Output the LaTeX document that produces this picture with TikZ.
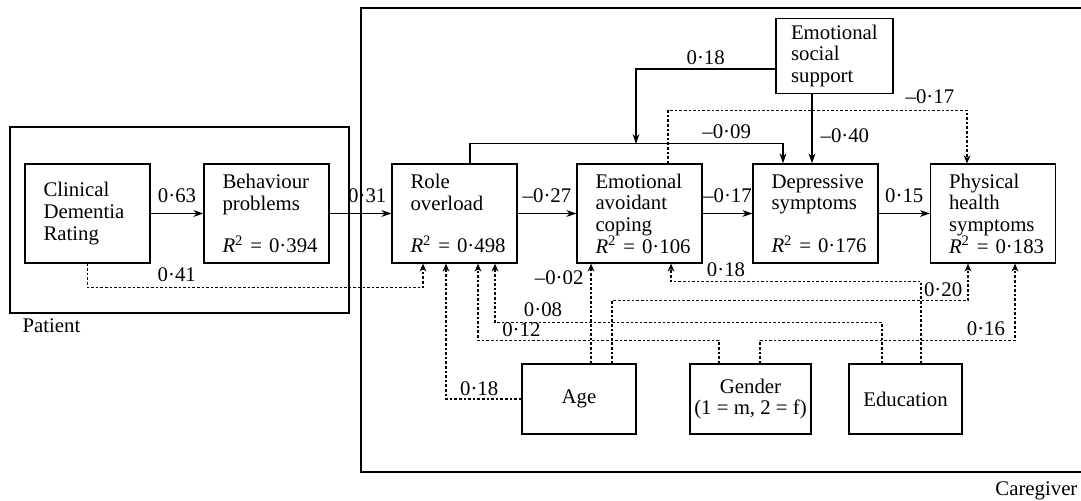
\documentclass[tikz,border=0pt]{standalone}
\usepackage{fontspec}
\setmainfont{Liberation Serif}
\usetikzlibrary{arrows.meta, positioning, calc}
\hyphenpenalty=10000
\newcommand{\rsq}[1]{\mbox{\textit{R}\textsuperscript{2} = #1}}

\begin{document}
\begin{tikzpicture}[
    x=0.5pt, y=-0.5pt,
    line width=0.6pt,
    every node/.style={font=\fontsize{10.4}{10.8}\selectfont},
    varbox/.style={rectangle, draw, minimum width=62.5pt, minimum height=49.5pt, text width=44pt, inner xsep=9.25pt, align=left},
    supbox/.style={rectangle, draw, minimum width=58.5pt, minimum height=35pt, text width=43.5pt, inner xsep=7.5pt, align=left},
    covbox/.style={rectangle, draw, minimum height=35pt, inner xsep=0pt, align=center},
    lab/.style={inner sep=0pt},
    effect/.style={draw, -{Stealth[length=5pt, width=3.4pt]}},
    control/.style={draw, dash pattern=on 1.3pt off 1pt, -{Stealth[length=4pt, width=3.4pt]}}
]
\useasboundingbox (0,0) rectangle (1081,501);

% frames
\draw (10,127) rectangle (349,313);
\node[lab, anchor=base west] (patient) at (22,333) {Patient};
\draw (1082,8) -- (361,8) -- (361,472) -- (1082,472);
\node[lab, anchor=base east] (caregiver) at (1078,496) {Caregiver};

% variables
\node[varbox] (cdr) at (87.5,213.5) {Clinical\\Dementia\\Rating};
\node[varbox] (bp) at (266.5,213.5) {Behaviour\\problems\\[10.5pt]\rsq{0·394}};
\node[varbox] (ro) at (454.5,213.5) {Role\\overload\\[10.5pt]\rsq{0·498}};
\node[varbox] (eac) at (639.5,213.5) {Emotional\\avoidant\\coping\\\rsq{0·106}};
\node[varbox] (ds) at (815.5,213.5) {Depressive\\symptoms\\[10.5pt]\rsq{0·176}};
\node[varbox] (phs) at (993,213.5) {Physical\\health\\symptoms\\\rsq{0·183}};
\node[supbox] (ess) at (834.5,56) {Emotional\\social\\support};
\node[covbox, minimum width=57pt] (age) at (579,399) {Age};
\node[covbox, minimum width=60.5pt] (gen) at (750.5,399) {Gender\\(1 = m, 2 = f)};
\node[covbox, minimum width=56.5pt] (edu) at (905.5,399) {Education};
\coordinate (mod) at (636,144);

% main paths
\draw[effect] (cdr) -- node[lab, above=5pt] {0·63} (bp);
\draw[effect] (bp) -- node[lab, above=5pt, pos=0.61] {0·31} (ro);
\draw[effect] (ro) -- node[lab, above=5pt] {--0·27} (eac);
\draw[effect] (eac) -- node[lab, above=5pt] {--0·17} (ds);
\draw[effect] (ds) -- node[lab, above=5pt] {0·15} (phs);
\draw[effect] ($(ro.north)+(15.5,0)$) -- ++(0,-20) -| node[lab, above=2pt, pos=0.41] {--0·09} ($(ds.north)+(-32.5,0)$);
\draw[effect] ($(ess.west)+(0,13)$) -| node[lab, above=2pt, pos=0.25] {0·18} (mod);
\draw[effect] ($(ess.south)+(-22.5,0)$) -- node[lab, right=4pt, pos=0.6] {--0·40} ($(ds.north)+(-3.5,0)$);

% dotted paths
\draw[control] (cdr.south) -- ++(0,24) -| node[lab, above=2.5pt, pos=0.133] {0·41} ($(ro.south)+(-31.5,0)$);
\draw[control] ($(eac.north)+(28.5,0)$) -- ++(0,-53) -| node[lab, above=3pt, pos=0.438] {--0·17} ($(phs.north)+(-26,0)$);
\draw[control] (age.west) -| node[lab, above=1.5pt, pos=0.28] {0·18} ($(ro.south)+(-8.5,0)$);
\draw[control] ($(age.north)+(12,0)$) -- node[lab, left=3.5pt, pos=0.86] {--0·02} ($(eac.south)+(-48.5,0)$);
\draw[control] ($(age.north)+(33,0)$) -- ++(0,-63) -| node[lab, above=1.5pt, pos=0.465] {0·20} ($(phs.south)+(-25,0)$);
\draw[control] ($(gen.north)+(-31.5,0)$) -- ++(0,-23) -| node[lab, above=1.5pt, pos=0.41] {0·12} ($(ro.south)+(23.5,0)$);
\draw[control] ($(gen.north)+(9.5,0)$) -- ++(0,-23) -| node[lab, above=2pt, pos=0.443] {0·16} ($(phs.south)+(22,0)$);
\draw[control] ($(edu.north)+(-23.5,0)$) -- ++(0,-41) -| node[lab, above=2.5pt, pos=0.438] {0·08} ($(ro.south)+(40.5,0)$);
\draw[control] ($(edu.north)+(15.5,0)$) -- ++(0,-82) -| node[lab, above=2pt, pos=0.39] {0·18} ($(eac.south)+(31.5,0)$);
\end{tikzpicture}
\end{document}
